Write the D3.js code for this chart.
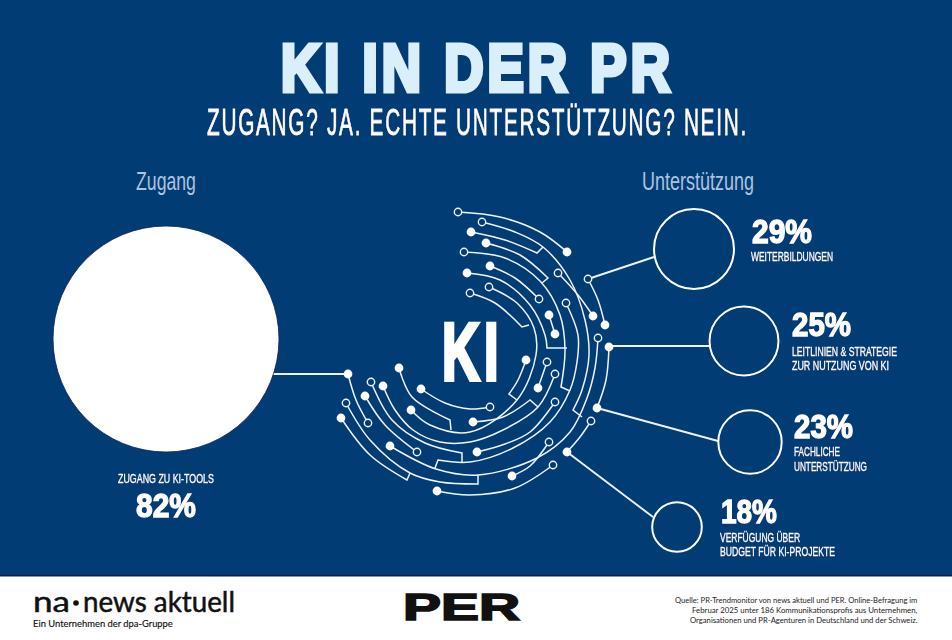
<!DOCTYPE html>
<html lang="de"><head><meta charset="utf-8">
<script src="https://cdn.jsdelivr.net/npm/d3@7/dist/d3.min.js"></script>
<style>html,body{margin:0;padding:0;background:#fff}svg{display:block}
.sh{filter:drop-shadow(.8px .8px 0 #06194f)}</style></head>
<body><svg id="c" width="952" height="640"></svg>
<script>
// --- chart data
const accessLabel = ["ZUGANG ZU KI-TOOLS"];
const accessValue = [82];
const supportCategories = [
  ["WEITERBILDUNGEN"],
  ["LEITLINIEN & STRATEGIE","ZUR NUTZUNG VON KI"],
  ["FACHLICHE","UNTERSTÜTZUNG"],
  ["VERFÜGUNG ÜBER","BUDGET FÜR KI-PROJEKTE"]
];
const supportValues = [29,25,23,18];
const sourceLines = [
  "Quelle: PR-Trendmonitor von news aktuell und PER. Online-Befragung im",
  "Februar 2025 unter 186 Kommunikationsprofis aus Unternehmen,",
  "Organisationen und PR-Agenturen in Deutschland und der Schweiz."
];

// --- layout (not data)
const BG="#023c75", PALE="#d9effc", SOFT="#adc3df", LINE="#eef3f8";
const bubbleCentres=[[694,249],[744,341],[750,442],[677,527]];
const leaders=[[[588,279],[654,257]],[[609,346],[709,346]],[[597,408],[718,441]],[[567,452],[653,517]],[[273,374],[348,374]]];
const pctPos=[[752,243,60],[792,336,59],[794,438,59],[721,523,56]];
const catPos=[[[751,261,82]],[[792,356,105],[792,370,97]],[[794,456,46],[794,471,73]],[[720,542,80],[720,556,115]]];

// circuit illustration: [startNode, endNode, arc waypoints, optional straight stub]
const circuit=[
 ["o","f",[[458,212],[500,217],[540,232],[567,252]]],
 ["o",null,[[482,222],[515,232],[543,247],[570,280],[585,320],[589,355],[582,390],[573,410]],[[582,417]]],
 ["f",null,[[471,232],[505,240],[537,253]],[[543,247]]],
 ["f",null,[[486,243],[520,255],[548,278]],[[542,283]]],
 ["o",null,[[464,252],[505,258],[540,281],[560,315],[565,350],[561,387]],[[570,391]]],
 ["f","o",[[490,266],[515,278],[539,299]]],
 ["f",null,[[467,273],[500,280],[530,305],[545,335],[547,348]],[[567,348]]],
 ["o",null,[[470,293],[495,303],[522,327]],[[529,325]]],
 ["o","f",[[489,287],[517,303],[534,328],[536,355],[517,400],[470,432],[430,425],[411,410]]],
 ["f",null,[[526,360],[518,380],[509,394]],[[517,400]]],
 ["o","f",[[555,374],[538,407],[503,430],[470,442],[440,442],[413,430],[395,410],[383,386]]],
 ["o","f",[[555,402],[530,432],[505,444],[477,452]]],
 ["f",null,[[473,422],[503,417],[530,400]],[[538,407]]],
 ["f","o",[[421,389],[445,403],[470,409],[490,407]]],
 ["f","o",[[365,396],[385,425],[417,452]]],
 ["o",null,[[371,382],[392,420],[425,443],[462,453]],[[462,463]]],
 ["f",null,[[399,368],[412,397],[450,420]],[[451,430]]],
 ["f","o",[[348,374],[356,400],[368,423]]],
 ["f",null,[[341,418],[370,455],[407,480]],[[410,473]]],
 ["o",null,[[346,403],[370,440],[410,473],[440,482],[478,484]],[[478,475]]],
 ["f","o",[[437,491],[470,495],[515,488],[553,465]]],
 ["f","o",[[512,476],[530,466],[549,442]]],
 ["f","o",[[390,446],[436,469],[478,475],[537,458],[570,432],[587,398],[595,368],[598,338]]],
 [null,"o",[[435,468],[438,460]],[[470,462],[513,448],[550,422],[570,390],[577,362],[578,335],[566,303]]],
 ["o","f",[[591,421],[580,437],[567,452]]],
 ["f","f",[[597,408],[606,380],[609,347]]],
 ["o","f",[[588,279],[598,300],[605,325]]],
 ["o","f",[[558,273],[578,295],[593,316]]],
 ["f","f",[[549,315],[555,334]]],
 ["o","f",[[547,362],[538,388]]]
];

// --- draw
const svg=d3.select("#c");
svg.append("rect").attr("width",952).attr("height",576).attr("fill",BG);
svg.append("rect").attr("y",575).attr("width",952).attr("height",1.5).attr("fill","#0a1f44");

const SANS="'Liberation Sans',sans-serif";
function txt(t,x,y,w,size,o={}){
  const s=svg.append("text").text(t)
    .attr("font-family",o.font||SANS).attr("font-size",size)
    .attr("font-weight",o.weight||"400").attr("fill",o.fill||"#fff")
    .attr("stroke",o.stroke||"none").attr("stroke-width",o.sw||0)
    .attr("letter-spacing",o.ls||0).attr("paint-order","stroke");
  if(o.cls) s.attr("class",o.cls);
  const natural=s.node().getComputedTextLength();
  s.attr("transform",`translate(${x},${y}) scale(${w/natural},1)`);
  return s;
}
// Title
txt("KI IN DER PR",281,91,393,67,{weight:"700",fill:PALE,stroke:PALE,sw:5,ls:5,cls:"sh"});
txt("ZUGANG? JA. ECHTE UNTERSTÜTZUNG? NEIN.",207,135,541,37,{ls:3,stroke:"#fff",sw:.8,cls:"sh"});
txt("Zugang",136,190,60,25,{fill:SOFT});
txt("Unterstützung",642,190,112,25,{fill:SOFT});

// Radius scale: the circles' radii are linear in the percentage
const r=d3.scaleLinear().domain([0,82]).range([0,113]);
const fmt=v=>d3.format("d")(v)+"%";

// Leaders
svg.append("g").selectAll("line").data(leaders).join("line")
  .attr("x1",d=>d[0][0]).attr("y1",d=>d[0][1]).attr("x2",d=>d[1][0]).attr("y2",d=>d[1][1])
  .attr("stroke",LINE).attr("stroke-width",1.9);

// Circuit
const arcLine=d3.line().curve(d3.curveCatmullRom.alpha(.5));
const g=svg.append("g");
circuit.forEach(([a,b,pts,stub])=>{
  let dd;
  if(a===null){ // stub first, then arc
    dd=d3.line()(pts)+arcLine([pts[pts.length-1],...stub]).replace(/^M[^C]*/,"");
  } else {
    dd=arcLine(pts)+(stub?"L"+stub.map(p=>p.join(",")).join("L"):"");
  }
  g.append("path").attr("d",dd).attr("fill","none").attr("stroke",LINE).attr("stroke-width",1.5);
});
const nodes=[];
circuit.forEach(([a,b,pts,stub])=>{
  if(a) nodes.push([pts[0],a]);
  const last=(a===null&&stub)?stub[stub.length-1]:pts[pts.length-1];
  if(b) nodes.push([last,b]);
});
g.selectAll("circle").data(nodes).join("circle")
  .attr("cx",d=>d[0][0]).attr("cy",d=>d[0][1])
  .attr("r",d=>d[1]==="f"?4.4:3.7)
  .attr("fill",d=>d[1]==="f"?"#fff":BG)
  .attr("stroke",d=>d[1]==="f"?"none":LINE).attr("stroke-width",1.4);

txt("KI",442,380,61,82,{weight:"700",stroke:"#fff",sw:4,ls:7});

// Access bubble
svg.append("circle").datum(accessValue[0]).attr("cx",166).attr("cy",339).attr("r",d=>r(d))
  .attr("fill","#fff").attr("stroke","#0a1f5c").attr("stroke-width",.8);
txt(accessLabel[0],118,483,96,12.2,{stroke:"#fff",sw:.35,cls:"sh"});
txt(fmt(accessValue[0]),136,517,60,33,{weight:"700",stroke:"#fff",sw:1.4,cls:"sh"});

// Support bubbles
svg.append("g").selectAll("circle").data(supportValues).join("circle")
  .attr("cx",(d,i)=>bubbleCentres[i][0]).attr("cy",(d,i)=>bubbleCentres[i][1]).attr("r",d=>r(d))
  .attr("fill","none").attr("stroke","#fff").attr("stroke-width",2);
supportValues.forEach((v,i)=>{
  const p=pctPos[i];
  txt(fmt(v),p[0],p[1],p[2],33,{weight:"700",stroke:"#fff",sw:1.4,cls:"sh"});
  supportCategories[i].forEach((t,j)=>{
    const c=catPos[i][j];
    txt(t,c[0],c[1],c[2],12.2,{stroke:"#fff",sw:.35,cls:"sh"});
  });
});

// Footer
const GEO="'Lato','Open Sans',sans-serif";
txt("na",33,612,37,28,{font:GEO,fill:"#111",stroke:"#111",sw:.5});
svg.append("circle").attr("cx",76).attr("cy",603).attr("r",2.8).attr("fill","#111");
txt("news aktuell",83,612,152,28,{font:GEO,fill:"#111",stroke:"#111",sw:.5});
txt("Ein Unternehmen der dpa-Gruppe",33,627,140,9.8,{font:GEO,fill:"#111",stroke:"#111",sw:.15});
txt("PER",403,620,117,37,{weight:"700",fill:"#111",stroke:"#111",sw:1.6});
const widths=[242,225,227];
sourceLines.forEach((t,i)=>{
  txt(t,917-widths[i],603+i*10.2,widths[i],8.4,{font:GEO,fill:"#222"});
});
</script></body></html>
